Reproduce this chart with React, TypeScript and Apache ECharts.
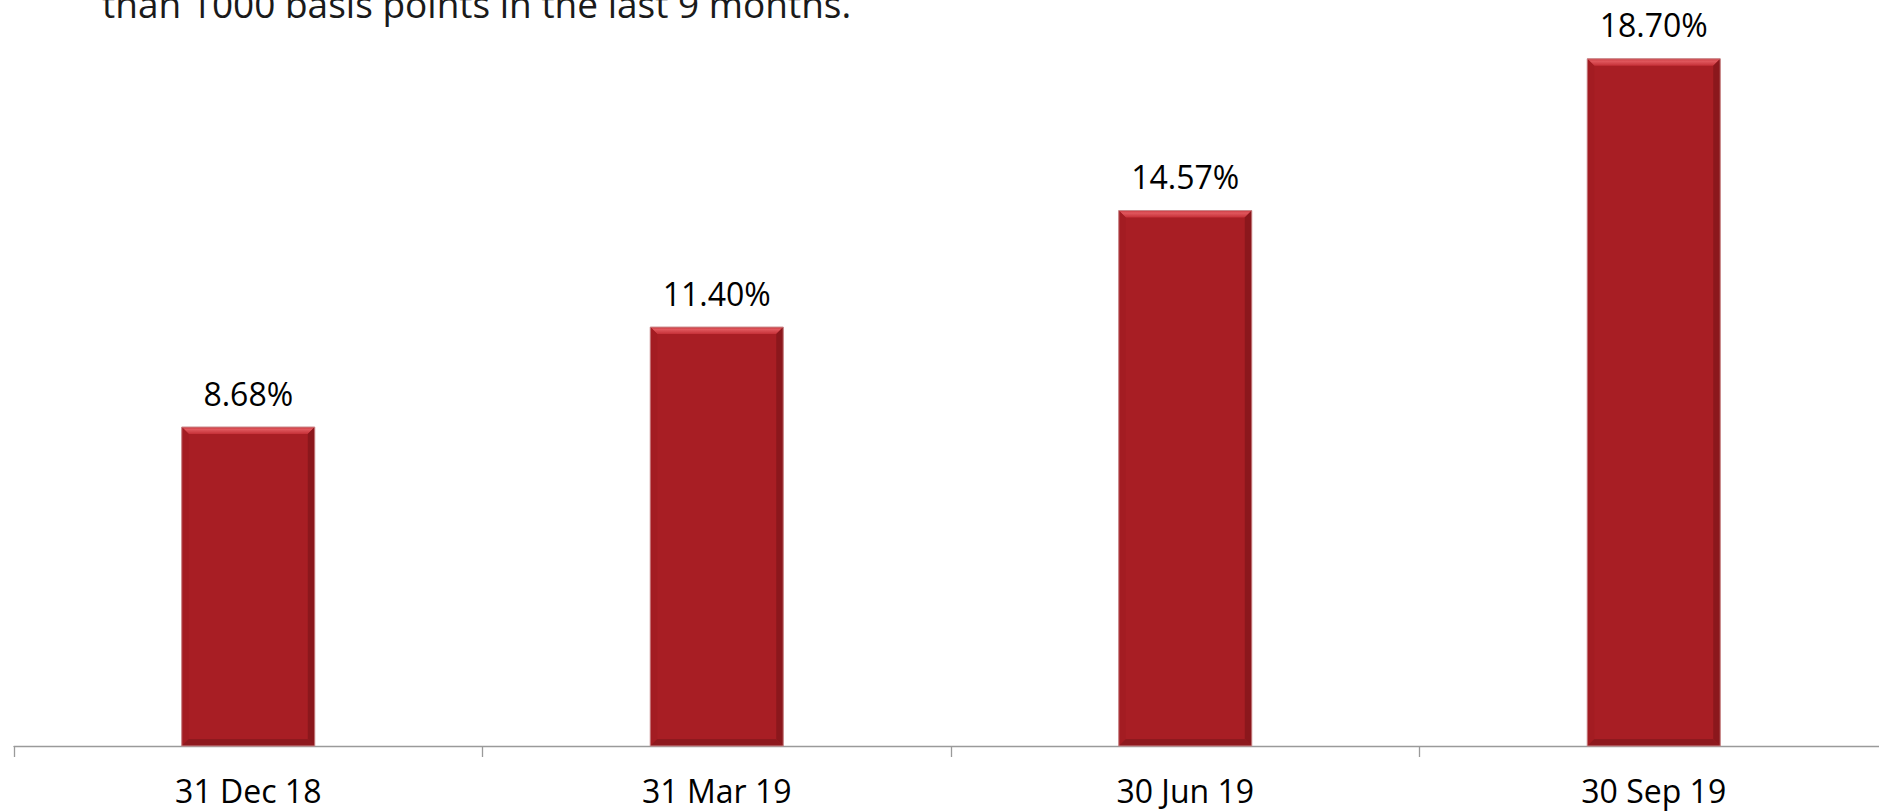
import React, { useEffect, useRef } from "react";
import * as echarts from "echarts";

const categories = ["31 Dec 18", "31 Mar 19", "30 Jun 19", "30 Sep 19"];
const values = [8.68, 11.4, 14.57, 18.7];
const headerText = "than 1000 basis points in the last 9 months.";

const BAR_RATIO = 0.284;
const FONT = "'Open Sans', 'Noto Sans', sans-serif";

export default function App() {
  const ref = useRef<HTMLDivElement>(null);
  useEffect(() => {
    if (!ref.current) return;
    const chart = echarts.init(ref.current, undefined, { renderer: "svg" });
    chart.setOption({
      animation: false,
      backgroundColor: "#ffffff",
      grid: { left: 14, top: 11, right: 0, height: 735, containLabel: false },
      graphic: [
        {
          type: "text",
          left: 102,
          top: -15,
          style: {
            text: headerText,
            font: `37px ${FONT}`,
            fill: "#1a1a1a",
          },
        },
      ],
      xAxis: {
        type: "category",
        data: categories,
        boundaryGap: true,
        axisLine: { show: true, lineStyle: { color: "#9a9a9a", width: 1.3 } },
        axisTick: { show: true, length: 11, lineStyle: { color: "#9a9a9a", width: 1.3 } },
        axisLabel: {
          margin: 27,
          fontSize: 32,
          lineHeight: 34,
          fontFamily: FONT,
          color: "#000000",
        },
      },
      yAxis: {
        type: "value",
        min: 0,
        max: 20,
        show: false,
        splitLine: { show: false },
      },
      series: [
        {
          type: "bar",
          data: values,
          barWidth: `${BAR_RATIO * 100}%`,
          itemStyle: { color: "#a81e24" },
          label: {
            show: true,
            position: "top",
            distance: 18,
            fontSize: 32,
            fontFamily: FONT,
            color: "#000000",
            formatter: (p: any) => `${Number(p.value).toFixed(2)}%`,
          },
          z: 2,
        },
        {
          type: "custom",
          silent: true,
          z: 3,
          data: values.map((v, i) => [i, v]),
          renderItem: (params: any, api: any) => {
            const idx = api.value(0);
            const v = api.value(1);
            const topPt = api.coord([idx, v]);
            const botPt = api.coord([idx, 0]);
            const bw = api.size([1, 0])[0] * BAR_RATIO;
            const l = topPt[0] - bw / 2;
            const r = topPt[0] + bw / 2;
            const t = topPt[1];
            const b = botPt[1];
            const e = 7;
            return {
              type: "group",
              children: [
                {
                  type: "polygon",
                  shape: { points: [[l, t], [r, t], [r - e, t + e], [l + e, t + e]] },
                  style: {
                    fill: new echarts.graphic.LinearGradient(0, 0, 0, 1, [
                      { offset: 0, color: "#c9383e" },
                      { offset: 0.35, color: "#e0575d" },
                      { offset: 1, color: "#c53037" },
                    ]),
                  },
                },
                {
                  type: "polygon",
                  shape: { points: [[l, t], [l + e, t + e], [l + e, b - e], [l, b]] },
                  style: { fill: "#a31c22" },
                },
                {
                  type: "polygon",
                  shape: { points: [[r, t], [r - e, t + e], [r - e, b - e], [r, b]] },
                  style: { fill: "#8b171c" },
                },
                {
                  type: "polygon",
                  shape: { points: [[l, b], [l + e, b - e], [r - e, b - e], [r, b]] },
                  style: { fill: "#8e191e" },
                },
                {
                  type: "rect",
                  shape: { x: l, y: t, width: bw, height: b - t },
                  style: { fill: "none", stroke: "#c98a8c", lineWidth: 1 },
                },
              ],
            };
          },
        },
      ],
    });
    return () => chart.dispose();
  }, []);
  return (
    <div
      style={{
        position: "absolute",
        left: 0,
        top: 0,
        width: 1879,
        height: 811,
        overflow: "hidden",
      }}
    >
      <div ref={ref} style={{ width: 1888, height: 811 }} />
    </div>
  );
}
